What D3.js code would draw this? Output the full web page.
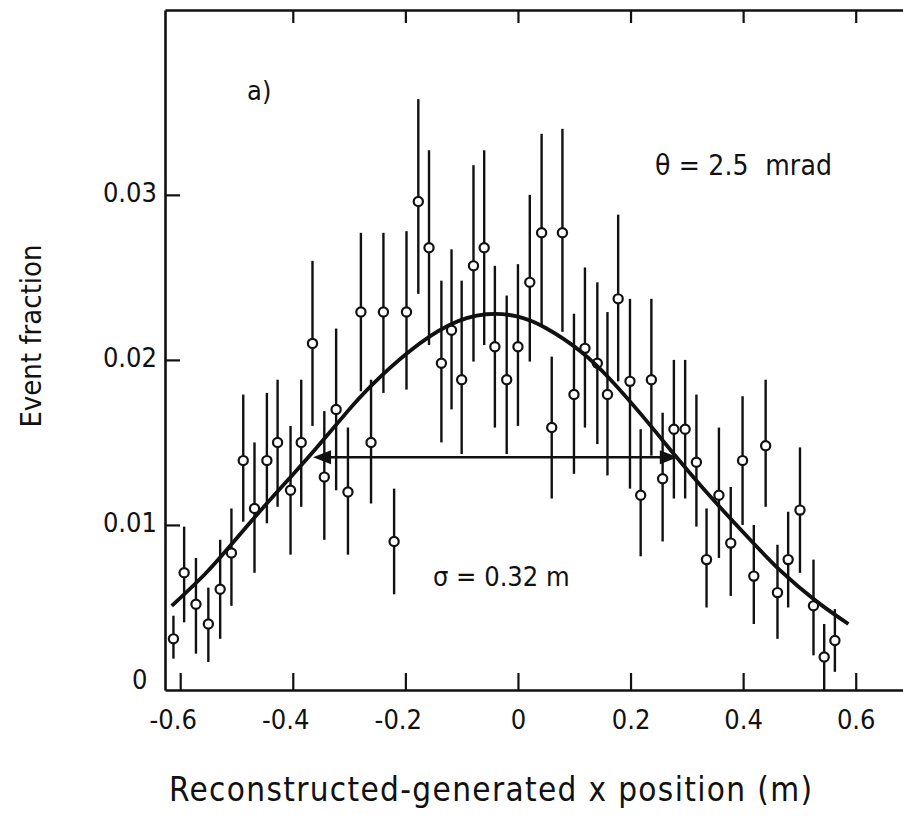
<!DOCTYPE html>
<html>
<head>
<meta charset="utf-8">
<script src="https://cdn.jsdelivr.net/npm/d3@7"></script>
<style>
	body { margin: 0; background: #fff; }
	svg text { font-family: "DejaVu Sans Condensed", "Liberation Sans Narrow", "DejaVu Sans", sans-serif; fill: #111; }
	.axis path, .axis line { stroke: #111; }
	.axis text { font-size: 27px; }
</style>
</head>
<body>
<div id="graphic"></div>
<script>
// bin centres (m), event fraction and the ends of each error bar
const xPos = [-0.612, -0.593, -0.572, -0.550, -0.529, -0.509, -0.488, -0.468, -0.446, -0.427,
	-0.404, -0.385, -0.365, -0.344, -0.323, -0.302, -0.279, -0.261, -0.239, -0.220,
	-0.198, -0.177, -0.158, -0.136, -0.118, -0.100, -0.079, -0.060, -0.041, -0.020,
	0.000, 0.021, 0.042, 0.060, 0.079, 0.0995, 0.119, 0.141, 0.159, 0.178,
	0.199, 0.218, 0.237, 0.257, 0.277, 0.297, 0.317, 0.335, 0.357, 0.378,
	0.399, 0.419, 0.440, 0.461, 0.480, 0.501, 0.525, 0.544, 0.563];
const fraction = [0.0031, 0.0071, 0.0052, 0.0040, 0.0061, 0.0083, 0.0139, 0.0110, 0.0139, 0.0150,
	0.0121, 0.0150, 0.0210, 0.0129, 0.0170, 0.0120, 0.0229, 0.0150, 0.0229, 0.0090,
	0.0229, 0.0296, 0.0268, 0.0198, 0.0218, 0.0188, 0.0257, 0.0268, 0.0208, 0.0188,
	0.0208, 0.0247, 0.0277, 0.0159, 0.0277, 0.0179, 0.0207, 0.0198, 0.0179, 0.0237,
	0.0187, 0.0118, 0.0188, 0.0128, 0.0158, 0.0158, 0.0138, 0.0079, 0.0118, 0.0089,
	0.0139, 0.0069, 0.0148, 0.0059, 0.0079, 0.0109, 0.0051, 0.0020, 0.0030];
const errTop = [0.0045, 0.0099, 0.0080, 0.0062, 0.0091, 0.0110, 0.0179, 0.0150, 0.0180, 0.0188,
	0.0160, 0.0188, 0.0260, 0.0169, 0.0219, 0.0159, 0.0277, 0.0188, 0.0277, 0.0122,
	0.0278, 0.0358, 0.0327, 0.0248, 0.0267, 0.0248, 0.0318, 0.0327, 0.0257, 0.0239,
	0.0258, 0.0300, 0.0337, 0.0202, 0.0340, 0.0228, 0.0256, 0.0247, 0.0229, 0.0288,
	0.0237, 0.0158, 0.0237, 0.0168, 0.0200, 0.0200, 0.0179, 0.0110, 0.0159, 0.0123,
	0.0178, 0.0100, 0.0188, 0.0088, 0.0108, 0.0147, 0.0079, 0.0040, 0.0049];
const errBottom = [0.0019, 0.0041, 0.0022, 0.0017, 0.0031, 0.0051, 0.0102, 0.0071, 0.0101, 0.0111,
	0.0082, 0.0111, 0.0160, 0.0091, 0.0121, 0.0082, 0.0181, 0.0113, 0.0180, 0.0058,
	0.0182, 0.0240, 0.0209, 0.0150, 0.0170, 0.0143, 0.0199, 0.0209, 0.0159, 0.0143,
	0.0160, 0.0199, 0.0220, 0.0116, 0.0217, 0.0131, 0.0159, 0.0149, 0.0130, 0.0187,
	0.0122, 0.0081, 0.0142, 0.0090, 0.0116, 0.0116, 0.0099, 0.0050, 0.0080, 0.0057,
	0.0100, 0.0040, 0.0111, 0.0031, 0.0050, 0.0071, 0.0021, 0.0000, 0.0011];

// fitted curve
const fitX = [-0.615, -0.552, -0.517, -0.470, -0.404, -0.364, -0.298, -0.263, -0.197, -0.121, -0.055,
	0.000, 0.045, 0.116, 0.163, 0.217, 0.284, 0.336, 0.418, 0.465, 0.531, 0.587];
const fitY = [0.0051, 0.0071, 0.0085, 0.0104, 0.0129, 0.0144, 0.0171, 0.0184, 0.0205, 0.0223, 0.0229,
	0.0227, 0.0221, 0.0205, 0.0189, 0.0168, 0.0140, 0.0119, 0.0089, 0.0072, 0.0053, 0.0040];

// sigma arrow: from, to, height
const sigmaArrow = [-0.364, 0.284, 0.0141];

const xTicks = [-0.6, -0.4, -0.2, 0, 0.2, 0.4, 0.6];
const xTickLabels = ['-0.6', '-0.4', '-0.2', '0', '0.2', '0.4', '0.6'];
const xTopTicks = [-0.4, -0.2, 0, 0.2, 0.4, 0.6];
const yTicks = [0, 0.01, 0.02, 0.03];
const yTickLabels = ['0', '0.01', '0.02', '0.03'];

const width = 903, height = 818;
const plot = { left: 165, right: 903, top: 10, bottom: 690 };

const svg = d3.select('#graphic').append('svg')
	.attr('width', width)
	.attr('height', height)
	.style('display', 'block');

svg.append('rect').attr('width', width).attr('height', height).attr('fill', '#fff');

const x = d3.scaleLinear().domain([-0.627, 0.684]).range([plot.left, plot.right]);
const y = d3.scaleLinear().domain([0, 0.0412]).range([plot.bottom, plot.top]);

// axes (ticks point inwards)
svg.append('g')
	.attr('class', 'x axis')
	.attr('transform', 'translate(0,' + plot.bottom + ')')
	.call(d3.axisBottom(x).tickValues(xTicks).tickSize(-17).tickSizeOuter(0).tickPadding(20)
		.tickFormat((d, i) => xTickLabels[i]))
	.call(g => g.select('.domain').attr('stroke-width', 2.6))
	.call(g => g.selectAll('.tick line').attr('stroke-width', 2.2))
	.call(g => g.selectAll('.tick text').attr('dx', d => d < 0 ? '-0.28em' : 0));

svg.append('g')
	.attr('class', 'x axis top')
	.attr('transform', 'translate(0,' + plot.top + ')')
	.call(d3.axisTop(x).tickValues(xTopTicks).tickSize(-13).tickSizeOuter(0).tickFormat(''))
	.call(g => g.select('.domain').attr('stroke-width', 2.6))
	.call(g => g.selectAll('.tick line').attr('stroke-width', 2.2));

svg.append('g')
	.attr('class', 'y axis')
	.attr('transform', 'translate(' + plot.left + ',0)')
	.call(d3.axisLeft(y).tickValues(yTicks).tickSize(-15).tickSizeOuter(0).tickPadding(8)
		.tickFormat((d, i) => yTickLabels[i]))
	.call(g => g.select('.domain').attr('stroke-width', 2.6))
	.call(g => g.selectAll('.tick line').attr('stroke-width', 2.2).attr('display', d => d == 0 ? 'none' : null))
	.call(g => g.selectAll('.tick text')
		.attr('dy', d => d == 0 ? '-0.05em' : '0.25em')
		.attr('dx', d => d == 0 ? '-0.35em' : 0));

// error bars
const points = xPos.map((d, i) => ({ x: d, v: fraction[i], hi: errTop[i], lo: errBottom[i] }));

svg.append('g')
	.selectAll('line')
	.data(points)
	.join('line')
	.attr('x1', d => x(d.x))
	.attr('x2', d => x(d.x))
	.attr('y1', d => y(d.hi))
	.attr('y2', d => y(d.lo))
	.attr('stroke', '#111')
	.attr('stroke-width', 2.4);

// sigma arrow
const arrowY = y(sigmaArrow[2]);
svg.append('line')
	.attr('x1', x(sigmaArrow[0]) + 4)
	.attr('x2', x(sigmaArrow[1]) - 4)
	.attr('y1', arrowY)
	.attr('y2', arrowY)
	.attr('stroke', '#111')
	.attr('stroke-width', 2.4);

svg.append('path')
	.attr('d', 'M' + x(sigmaArrow[0]) + ',' + arrowY + 'l18,-7v14z')
	.attr('fill', '#111');
svg.append('path')
	.attr('d', 'M' + x(sigmaArrow[1]) + ',' + arrowY + 'l-18,-7v14z')
	.attr('fill', '#111');

// data points
svg.append('g')
	.selectAll('circle')
	.data(points)
	.join('circle')
	.attr('cx', d => x(d.x))
	.attr('cy', d => y(d.v))
	.attr('r', 4.6)
	.attr('fill', '#fff')
	.attr('stroke', '#111')
	.attr('stroke-width', 2.2);

// fitted curve
const fit = fitX.map((d, i) => [d, fitY[i]]);
svg.append('path')
	.datum(fit)
	.attr('d', d3.line().x(d => x(d[0])).y(d => y(d[1])).curve(d3.curveBasis))
	.attr('fill', 'none')
	.attr('stroke', '#111')
	.attr('stroke-width', 3.8);

// annotations
svg.append('text').attr('x', 247).attr('y', 100).style('font-size', '27px').text('a)');
svg.append('text').attr('x', 655).attr('y', 175).style('font-size', '28px')
	.attr('textLength', 177).attr('lengthAdjust', 'spacing')
	.text('\u03b8 = 2.5\u00a0 mrad');
svg.append('text').attr('x', 433).attr('y', 586).style('font-size', '27px')
	.text('\u03c3 = 0.32 m');

// axis titles
svg.append('text')
	.attr('x', 169)
	.attr('y', 801)
	.attr('textLength', 643)
	.attr('lengthAdjust', 'spacing')
	.style('font-size', '33px')
	.text('Reconstructed-generated x position (m)');

svg.append('text')
	.attr('transform', 'translate(41,336) rotate(-90)')
	.attr('text-anchor', 'middle')
	.style('font-size', '29px')
	.text('Event fraction');
</script>
</body>
</html>
